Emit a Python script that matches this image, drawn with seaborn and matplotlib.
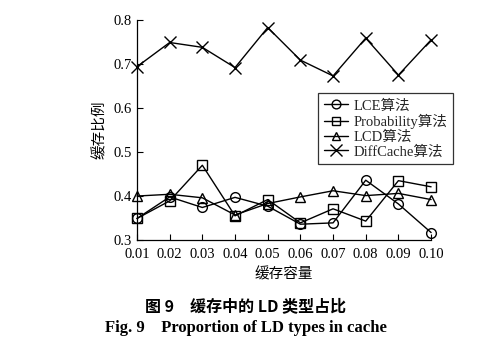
import matplotlib
matplotlib.use("Agg")
import matplotlib.pyplot as plt
import seaborn as sns
import pandas as pd

capacity = [0.01, 0.02, 0.03, 0.04, 0.05, 0.06, 0.07, 0.08, 0.09, 0.10]
lce = [0.349, 0.398, 0.374, 0.397, 0.377, 0.336, 0.339, 0.436, 0.382, 0.317]
probability = [0.349, 0.389, 0.470, 0.355, 0.392, 0.339, 0.371, 0.343, 0.435, 0.421]
lcd = [0.400, 0.404, 0.396, 0.357, 0.383, 0.398, 0.412, 0.401, 0.406, 0.392]
diffcache = [0.694, 0.749, 0.738, 0.692, 0.783, 0.709, 0.673, 0.759, 0.675, 0.755]
series_names = ["LCE算法", "Probability算法", "LCD算法", "DiffCache算法"]
xticklabels = ["0.01", "0.02", "0.03", "0.04", "0.05", "0.06", "0.07", "0.08", "0.09", "0.10"]

sns.set_theme(style="white")
plt.rcParams['font.family'] = ['Liberation Serif', 'Noto Sans CJK SC', 'DejaVu Sans']
plt.rcParams['axes.unicode_minus'] = False

fig = plt.figure(figsize=(4.91, 3.4), dpi=100)
ax = fig.add_axes([0.279, 0.294, 0.599, 0.647])

markers = ["o", "s", "^", "x"]
values = [lce, probability, lcd, diffcache]
for name, vals, m in zip(series_names, values, markers):
    df = pd.DataFrame({"x": capacity, "y": vals})
    sns.lineplot(data=df, x="x", y="y", ax=ax, color="black", linewidth=1.0,
                 marker=m, markersize=7 if m != "x" else 9, markerfacecolor="none",
                 markeredgecolor="black", markeredgewidth=1.0, label=name,
                 clip_on=False)

ax.set_xlim(0.01, 0.10)
ax.set_ylim(0.3, 0.8)
ax.set_xticks(capacity)
ax.set_xticklabels(xticklabels)
ax.set_yticks([0.3, 0.4, 0.5, 0.6, 0.7, 0.8])
ax.set_yticklabels(["0.3", "0.4", "0.5", "0.6", "0.7", "0.8"])
ax.tick_params(direction="in", length=4, width=0.8, labelsize=10.5, colors="black",
               bottom=True, left=True)
ax.tick_params(axis="x", pad=6)
ax.tick_params(axis="y", pad=4)
for s in ["top", "right"]:
    ax.spines[s].set_visible(False)
for s in ["left", "bottom"]:
    ax.spines[s].set_color("black")
    ax.spines[s].set_linewidth(0.9)
ax.set_xlabel("缓存容量", fontsize=10.5, color="black", labelpad=4)
ax.set_ylabel("缓存比例", fontsize=10.5, color="black", labelpad=4)

leg = ax.legend(loc="upper right", bbox_to_anchor=(0.923, 0.726),
                bbox_transform=fig.transFigure, borderaxespad=0, fancybox=False,
                frameon=True, fontsize=10.5, handlelength=1.6, handletextpad=0.4,
                labelspacing=0.1, borderpad=0.4, markerscale=0.9)
leg.get_frame().set_edgecolor("black")
leg.get_frame().set_linewidth(0.9)

fig.text(0.5, 0.10, "图 9　缓存中的 LD 类型占比", ha="center", va="center",
         fontsize=11.5, fontweight="bold", color="black",
         family=['Noto Sans CJK SC', 'Liberation Serif'])
fig.text(0.5, 0.035, "Fig. 9    Proportion of LD types in cache", ha="center", va="center",
         fontsize=12, fontweight="bold", color="black", family=['Liberation Serif'])

fig.savefig("out.png", dpi=100)
